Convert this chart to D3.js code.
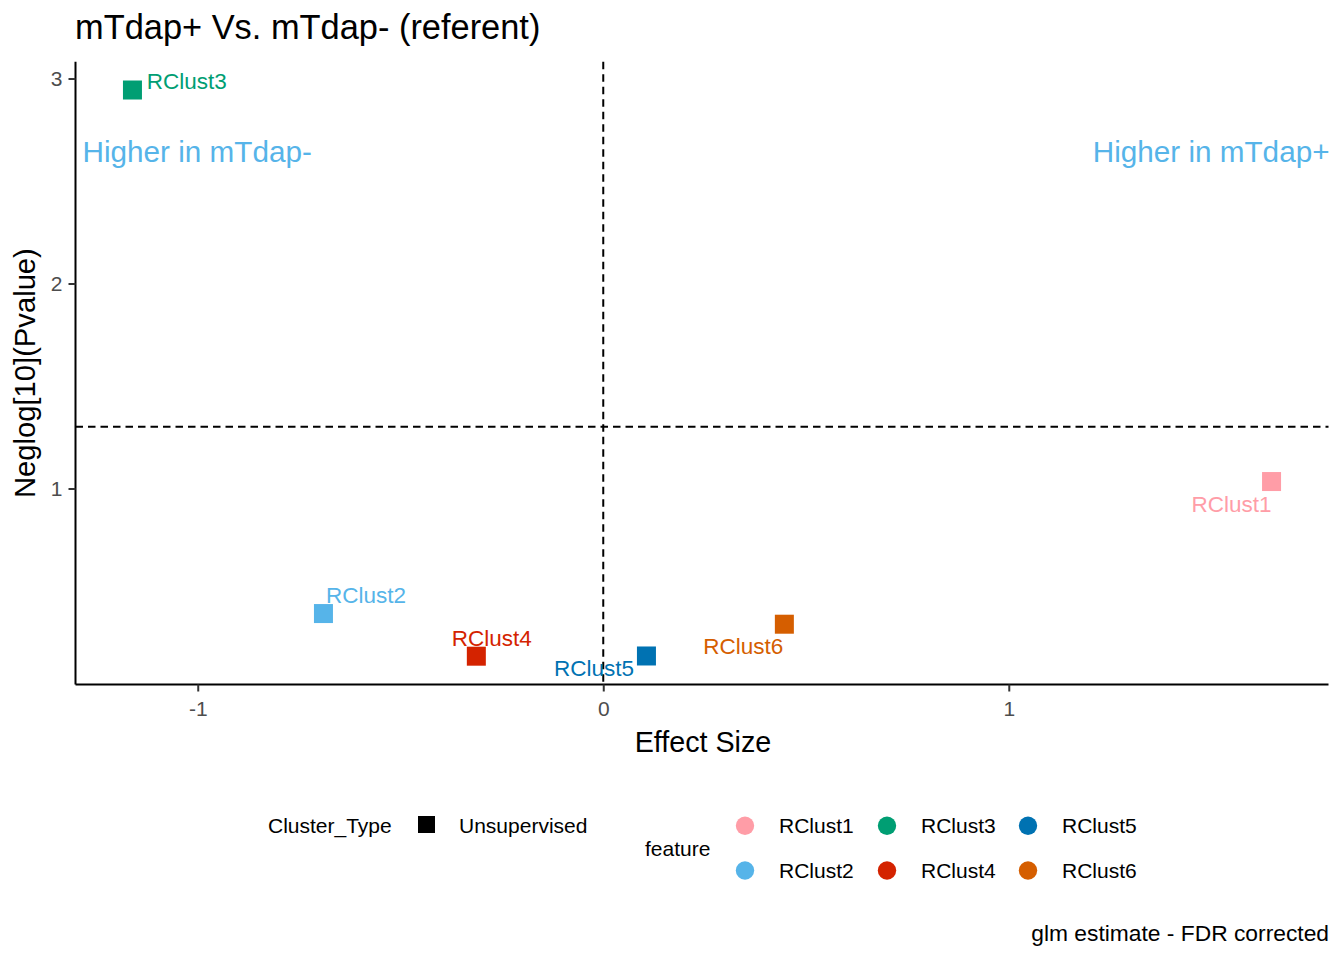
<!DOCTYPE html>
<html>
<head>
<meta charset="utf-8">
<script src="https://cdn.jsdelivr.net/npm/d3@7"></script>
<style>
  html, body { margin: 0; padding: 0; background: #fff; }
  svg { display: block; font-family: "Liberation Sans", Arial, sans-serif; }
</style>
</head>
<body>
<svg id="chart" width="1344" height="960"></svg>
<script>
// ---- data ----
const features = ["RClust1", "RClust2", "RClust3", "RClust4", "RClust5", "RClust6"];
const effectSize = [1.648, -0.690, -1.161, -0.313, 0.1065, 0.4466];
const negLogP = [1.034, 0.390, 2.944, 0.182, 0.183, 0.338];
const featureColors = ["#FF9DA7", "#56B4E9", "#009E73", "#D42300", "#0072B2", "#D55E00"];
const clusterTypes = ["Unsupervised"];
const xTicks = [-1, 0, 1];
const yTicks = [1, 2, 3];
const pThreshold = 0.05;

const titleText = "mTdap+ Vs. mTdap- (referent)";
const xTitle = "Effect Size";
const yTitle = "Neglog[10](Pvalue)";
const leftNote = "Higher in mTdap-";
const rightNote = "Higher in mTdap+";
const caption = "glm estimate - FDR corrected";

// ---- layout ----
const svg = d3.select("#chart");
const panel = { left: 75.5, right: 1328.5, top: 61.7, bottom: 684.5 };

function expand(vals) {
  const [lo, hi] = d3.extent(vals);
  const r = hi - lo;
  return [lo - 0.05 * r, hi + 0.05 * r];
}
const x = d3.scaleLinear().domain(expand(effectSize)).range([panel.left, panel.right]);
const y = d3.scaleLinear().domain(expand(negLogP)).range([panel.bottom, panel.top]);

const rows = features.map((f, i) => ({ f, x: effectSize[i], y: negLogP[i], c: featureColors[i] }));
// label placement (repel-like offsets, px)
const labelOffset = {
  RClust1: [-80, 30], RClust2: [2.5, -10.8], RClust3: [14.2, -0.7],
  RClust4: [-24.5, -10.5], RClust5: [-92.5, 20], RClust6: [-81, 30]
};

// reference lines
const g = svg.append("g");
g.append("line")
  .attr("x1", x(0)).attr("x2", x(0)).attr("y1", panel.top).attr("y2", panel.bottom)
  .attr("stroke", "#000").attr("stroke-width", 2).attr("stroke-dasharray", "7.5,5");
g.append("line")
  .attr("x1", panel.left).attr("x2", panel.right)
  .attr("y1", y(-Math.log10(pThreshold))).attr("y2", y(-Math.log10(pThreshold)))
  .attr("stroke", "#000").attr("stroke-width", 2).attr("stroke-dasharray", "7.5,5");

// axes
const fmt = d => String(d);
const xAxis = d3.axisBottom(x).tickValues(xTicks).tickFormat(fmt).tickSizeOuter(0).tickSize(7).tickPadding(10);
const yAxis = d3.axisLeft(y).tickValues(yTicks).tickFormat(fmt).tickSizeOuter(0).tickSize(7).tickPadding(6);

const gx = svg.append("g").attr("transform", `translate(0,${panel.bottom})`).call(xAxis);
const gy = svg.append("g").attr("transform", `translate(${panel.left},0)`).call(yAxis);
[gx, gy].forEach(a => {
  a.select(".domain").attr("stroke", "#000").attr("stroke-width", 2);
  a.selectAll(".tick line").attr("stroke", "#333").attr("stroke-width", 2);
  a.selectAll(".tick text").attr("fill", "#4D4D4D").style("font-size", "21px")
    .style("font-family", "Liberation Sans, Arial, sans-serif");
});
gx.select(".domain").attr("d", `M${panel.left},0H${panel.right}`);
gy.select(".domain").attr("d", `M0,${panel.bottom}V${panel.top}`);

// points
const sq = 19;
svg.append("g").selectAll("rect").data(rows).join("rect")
  .attr("x", d => x(d.x) - sq / 2).attr("y", d => y(d.y) - sq / 2)
  .attr("width", sq).attr("height", sq).attr("fill", d => d.c);

// labels
svg.append("g").selectAll("text").data(rows).join("text")
  .attr("x", d => x(d.x) + labelOffset[d.f][0])
  .attr("y", d => y(d.y) + labelOffset[d.f][1])
  .attr("fill", d => d.c).style("font-size", "22.5px").text(d => d.f);

// annotations
svg.append("text").attr("x", panel.left + 7).attr("y", 162)
  .attr("fill", "#56B4E9").style("font-size", "29.7px").text(leftNote);
svg.append("text").attr("x", panel.right + 1).attr("y", 162).attr("text-anchor", "end")
  .attr("fill", "#56B4E9").style("font-size", "29.7px").text(rightNote);

// titles
svg.append("text").attr("x", 75).attr("y", 39).attr("fill", "#000")
  .style("font-size", "34.4px").text(titleText);
svg.append("text").attr("x", (panel.left + panel.right) / 2 + 1).attr("y", 752)
  .attr("text-anchor", "middle").attr("fill", "#000").style("font-size", "28.7px").text(xTitle);
svg.append("text").attr("transform", `translate(35,${(panel.top + panel.bottom) / 2}) rotate(-90)`)
  .attr("text-anchor", "middle").attr("fill", "#000").style("font-size", "29.2px").text(yTitle);
svg.append("text").attr("x", 1329).attr("y", 941).attr("text-anchor", "end")
  .attr("fill", "#000").style("font-size", "22.8px").text(caption);

// legends
const lg = svg.append("g").style("font-size", "21px").attr("fill", "#000");
lg.append("text").attr("x", 268).attr("y", 833).text("Cluster_Type");
lg.selectAll("rect.ct").data(clusterTypes).join("rect").attr("class", "ct")
  .attr("x", 418).attr("y", 816).attr("width", 17).attr("height", 17).attr("fill", "#000");
lg.selectAll("text.ct").data(clusterTypes).join("text").attr("class", "ct")
  .attr("x", 459).attr("y", 833).text(d => d);

lg.append("text").attr("x", 645).attr("y", 855.5).text("feature");
const colX = [745, 887, 1028];
const rowY = [825.7, 870.5];
const items = features.map((f, i) => ({ f, c: featureColors[i], col: Math.floor(i / 2), row: i % 2 }));
lg.selectAll("circle.ft").data(items).join("circle").attr("class", "ft")
  .attr("cx", d => colX[d.col]).attr("cy", d => rowY[d.row]).attr("r", 9.2).attr("fill", d => d.c);
lg.selectAll("text.ft").data(items).join("text").attr("class", "ft")
  .attr("x", d => colX[d.col] + 34).attr("y", d => rowY[d.row] + 7.3).text(d => d.f);
</script>
</body>
</html>
